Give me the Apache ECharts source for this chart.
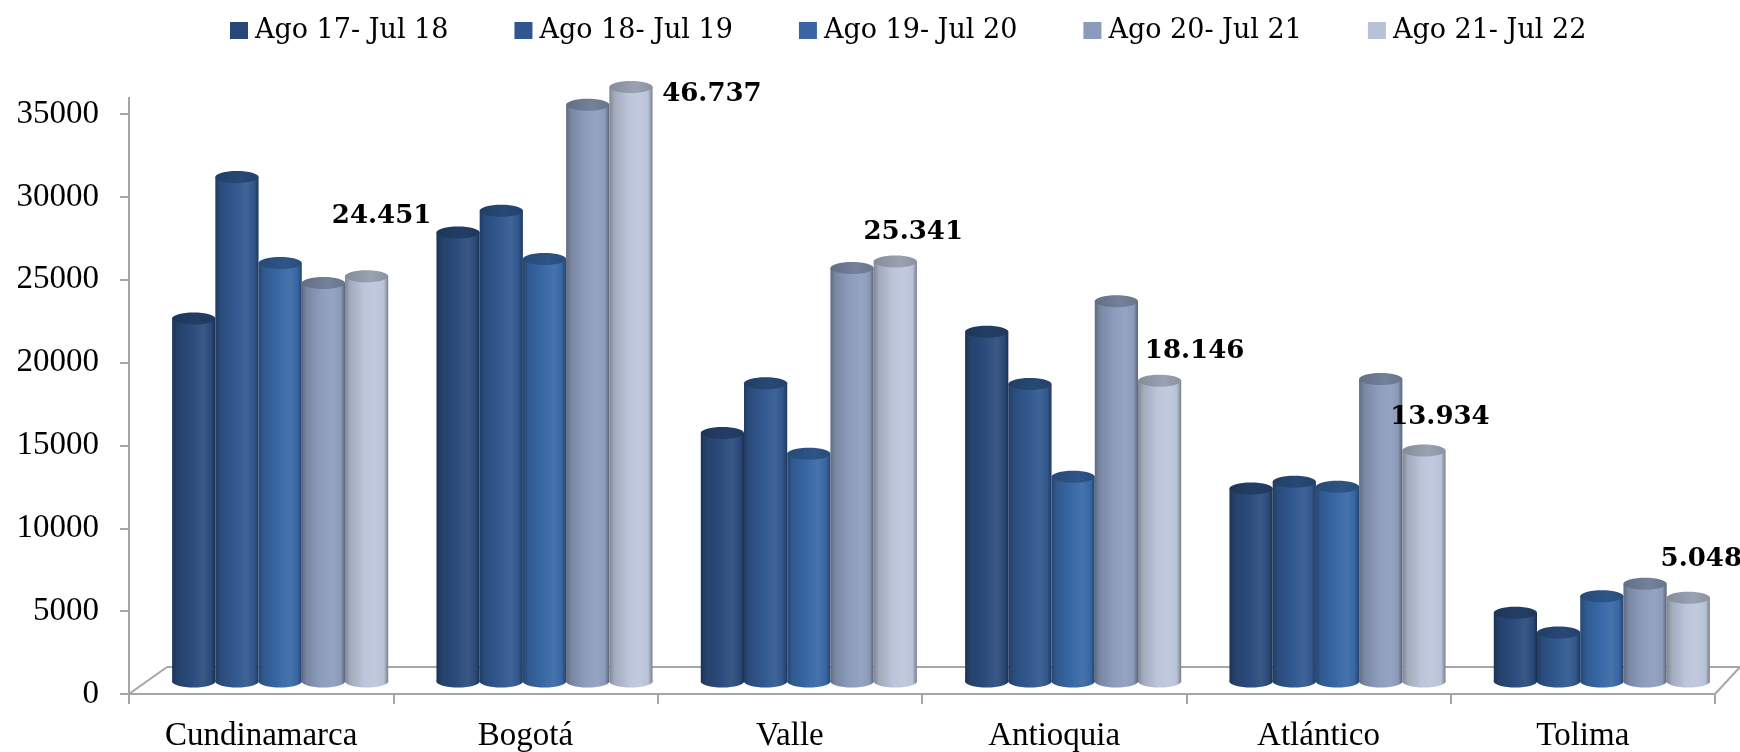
<!DOCTYPE html>
<html>
<head>
<meta charset="utf-8">
<script src="https://cdn.jsdelivr.net/npm/echarts@6/dist/echarts.min.js"></script>
<style>
  html, body { margin: 0; padding: 0; background: #ffffff; }
  #chart { width: 1740px; height: 752px; }
</style>
</head>
<body>
<div id="chart"></div>
<script>
// Departamentos y periodos
const categories = ['Cundinamarca', 'Bogotá', 'Valle', 'Antioquia', 'Atlántico', 'Tolima'];
const periods = ['Ago 17- Jul 18', 'Ago 18- Jul 19', 'Ago 19- Jul 20', 'Ago 20- Jul 21', 'Ago 21- Jul 22'];

// Valores por periodo (mismo orden que categories)
const ago17jul18 = [21900, 27100, 15000, 21100, 11650, 4150];
const ago18jul19 = [30450, 28400, 18000, 17950, 12050, 2950];
const ago19jul20 = [25250, 25500, 13750, 12350, 11750, 5150];
const ago20jul21 = [24050, 34800, 24950, 22950, 18250, 5900];
const ago21jul22 = [24451, 46737, 25341, 18146, 13934, 5048];

// Eje vertical
const yMin = 0;
const yMax = 35000;
const yInterval = 5000;

const seriesValues = [ago17jul18, ago18jul19, ago19jul20, ago20jul21, ago21jul22];

// ---- estilo ----
const FONT = '"DejaVu Serif", "Liberation Serif", serif';
const AXIS_FONT = '"Liberation Serif", "DejaVu Serif", serif';
const baseColors = ['#2b4b7c', '#31588f', '#3868a6', '#8d9dbd', '#bcc6da'];
const legendColors = ['#284676', '#30568e', '#3a64a2', '#8b9bbb', '#b9c1d6'];
const GRID_LINE = '#a6a6a6';

// geometría de la vista en perspectiva
const BAR_FRACTION = 0.1635;   // ancho de cada cilindro respecto a la banda
const BAR_DX = 19, BAR_DY = 12.5;   // desplazamiento de los cilindros hacia el fondo
const FLOOR_DX_L = 38, FLOOR_DX_R = 25, FLOOR_DY = 27;
const AXIS_EXT = 17;
const RY = 6;                  // semieje vertical de las tapas

// posición de las etiquetas de la última serie, relativa a la tapa
const labelNudge = [[15, -60], [81, 7], [18, -29], [35, -30], [16, -33], [13, -39]];

function mix(hex, f) {
  const n = parseInt(hex.slice(1), 16);
  let r = (n >> 16) & 255, g = (n >> 8) & 255, b = n & 255;
  const t = f < 0 ? 0 : 255, a = Math.abs(f);
  r = Math.round(r + (t - r) * a);
  g = Math.round(g + (t - g) * a);
  b = Math.round(b + (t - b) * a);
  return 'rgb(' + r + ',' + g + ',' + b + ')';
}

function bodyGradient(c) {
  return new echarts.graphic.LinearGradient(0, 0, 1, 0, [
    { offset: 0, color: mix(c, -0.32) },
    { offset: 0.12, color: mix(c, -0.14) },
    { offset: 0.45, color: mix(c, 0) },
    { offset: 0.72, color: mix(c, 0.07) },
    { offset: 0.9, color: mix(c, -0.02) },
    { offset: 1, color: mix(c, -0.36) }
  ]);
}

function topGradient(c) {
  return new echarts.graphic.LinearGradient(0, 0, 1, 0, [
    { offset: 0, color: mix(c, -0.3) },
    { offset: 0.6, color: mix(c, -0.18) },
    { offset: 1, color: mix(c, -0.26) }
  ]);
}

function fmt(v) {
  return String(v).replace(/\B(?=(\d{3})+(?!\d))/g, '.');
}

function renderFrame(params, api) {
  const band = api.size([1, 0])[0];
  const p0 = api.coord([0, 0]);
  const xL = p0[0] - band / 2;
  const xR = api.coord([categories.length - 1, 0])[0] + band / 2;
  const y0 = p0[1];
  const yTop = api.coord([0, yMax])[1];
  const line = (x1, y1, x2, y2) => ({
    type: 'line', shape: { x1, y1, x2, y2 },
    style: { stroke: GRID_LINE, lineWidth: 2 }
  });
  return {
    type: 'group',
    children: [
      line(xL + FLOOR_DX_L, y0 - FLOOR_DY, xR + FLOOR_DX_R, y0 - FLOOR_DY),
      line(xL, y0, xL + FLOOR_DX_L, y0 - FLOOR_DY),
      line(xR, y0, xR + FLOOR_DX_R, y0 - FLOOR_DY),
      line(xL, y0, xL, yTop - AXIS_EXT)
    ]
  };
}

function makeCylinder(k) {
  const c = baseColors[k];
  return function (params, api) {
    const idx = api.value(0);
    const v = api.value(1);
    const band = api.size([1, 0])[0];
    const w = band * BAR_FRACTION;
    const base = api.coord([idx, 0]);
    const cx = base[0] + BAR_DX + (k - 2) * w;
    const yBase = base[1] - BAR_DY;
    let yTop = api.coord([idx, Math.min(v, yMax)])[1] - BAR_DY;
    if (v > yMax) yTop = api.coord([idx, yMax])[1] - FLOOR_DY;
    const children = [
      { type: 'ellipse', shape: { cx: cx, cy: yBase, rx: w / 2, ry: RY }, style: { fill: bodyGradient(c) } },
      { type: 'rect', shape: { x: cx - w / 2, y: yTop, width: w, height: yBase - yTop }, style: { fill: bodyGradient(c) } },
      { type: 'ellipse', shape: { cx: cx, cy: yTop, rx: w / 2, ry: RY }, style: { fill: topGradient(c) } }
    ];
    if (k === seriesValues.length - 1) {
      const nd = labelNudge[idx];
      children.push({
        type: 'text',
        x: cx + nd[0],
        y: yTop + nd[1],
        z2: 10,
        style: {
          text: fmt(v),
          fill: '#000000',
          font: 'bold 26px ' + FONT,
          align: 'center',
          verticalAlign: 'middle'
        }
      });
    }
    return { type: 'group', children: children };
  };
}

const chart = echarts.init(document.getElementById('chart'), null, { renderer: 'canvas' });

const series = [{
  type: 'custom',
  name: '__frame',
  silent: true,
  z: 1,
  renderItem: renderFrame,
  data: [[0, 0]]
}];

periods.forEach((p, k) => {
  series.push({
    type: 'custom',
    name: p,
    z: 2 + k,
    silent: true,
    itemStyle: { color: legendColors[k] },
    renderItem: makeCylinder(k),
    data: seriesValues[k].map((v, i) => [i, v])
  });
});

chart.setOption({
  animation: false,
  backgroundColor: '#ffffff',
  legend: {
    data: periods,
    left: 225,
    top: 12,
    icon: 'rect',
    itemWidth: 18,
    itemHeight: 17,
    itemGap: 66,
    textStyle: { fontFamily: FONT, fontSize: 27, color: '#000000', padding: [0, 0, 0, 2] }
  },
  grid: { left: 129, right: 25, top: 114, bottom: 58, containLabel: false, outerBoundsMode: 'none' },
  xAxis: {
    type: 'category',
    data: categories,
    boundaryGap: true,
    axisLine: { show: true, lineStyle: { color: GRID_LINE, width: 2 } },
    axisTick: { show: true, alignWithLabel: false, length: 10, lineStyle: { color: GRID_LINE, width: 2 } },
    axisLabel: { fontFamily: AXIS_FONT, fontSize: 33, color: '#000000', margin: 26 },
    splitLine: { show: false }
  },
  yAxis: {
    type: 'value',
    min: yMin,
    max: yMax,
    interval: yInterval,
    axisLine: { show: false },
    axisTick: { show: true, length: 9, lineStyle: { color: GRID_LINE, width: 2 } },
    axisLabel: {
      fontFamily: AXIS_FONT, fontSize: 33, color: '#000000', margin: 30,
      padding: [6, 0, 0, 0],
      formatter: (v) => String(v)
    },
    splitLine: { show: false }
  },
  series: series
});
</script>
</body>
</html>
